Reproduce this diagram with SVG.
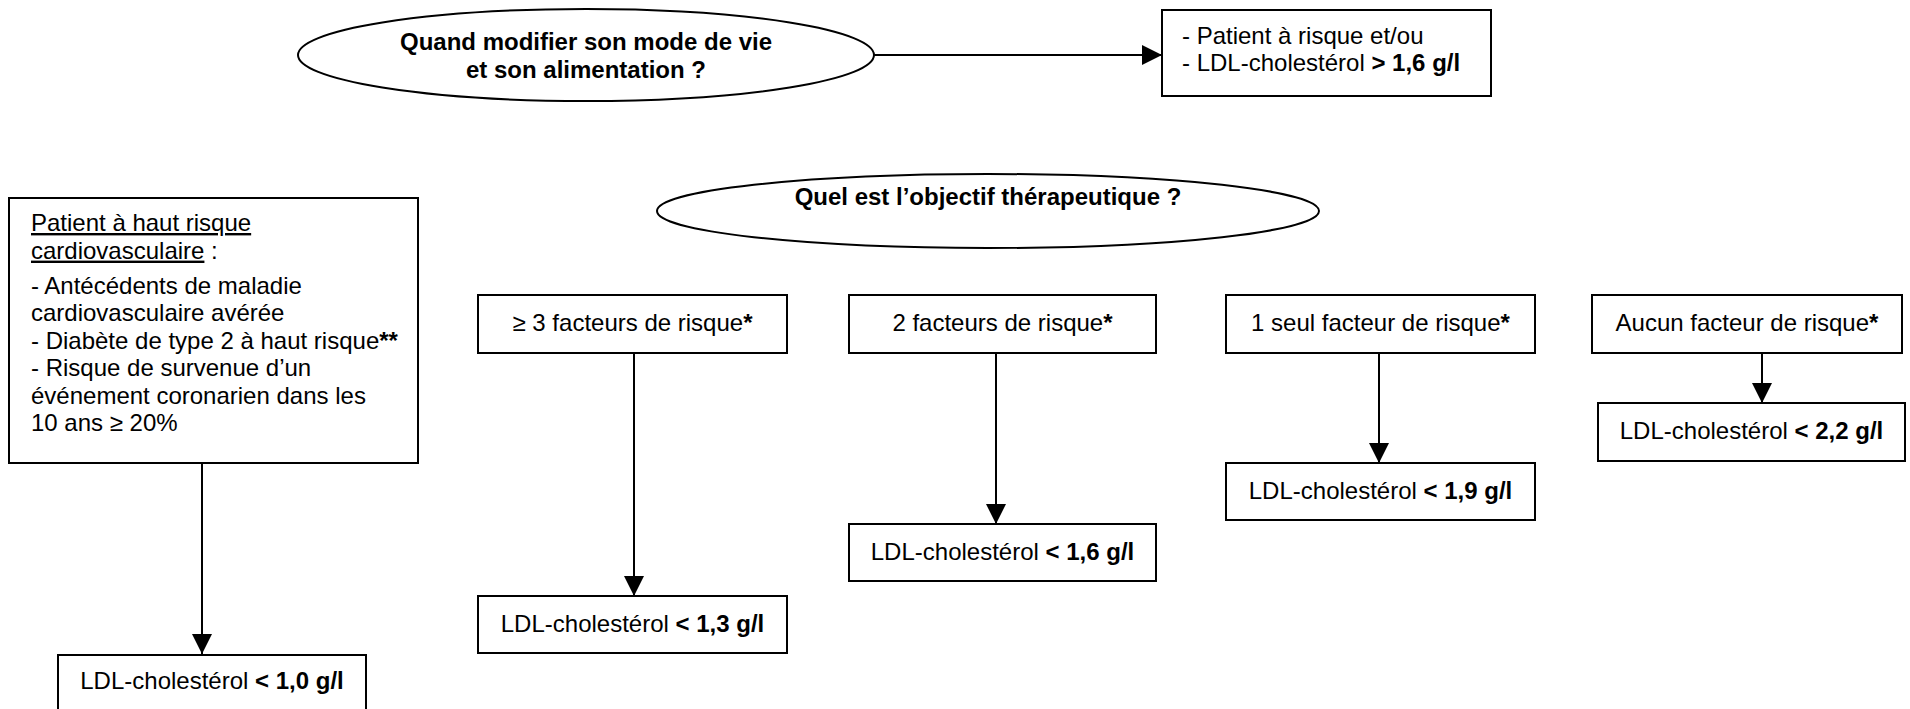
<svg xmlns="http://www.w3.org/2000/svg" width="1910" height="709" viewBox="0 0 1910 709">
<style>
  text { font-family: "Liberation Sans", Arial, sans-serif; font-size: 24px; fill: #000; }
  .b { font-weight: bold; }
  .c { text-anchor: middle; }
  .u { text-decoration: underline; }
  .box { fill: #fff; stroke: #000; stroke-width: 2; }
  .conn line { stroke: #000; stroke-width: 2; }
</style>
<defs>
  <marker id="ah" viewBox="0 0 20 20" refX="20" refY="10" markerWidth="20" markerHeight="20" markerUnits="userSpaceOnUse" orient="auto">
    <path d="M0,0 L20,10 L0,20 Z" fill="#000"/>
  </marker>
</defs>
<rect width="1910" height="709" fill="#fff"/>

<g class="conn">
  <line x1="874" y1="55" x2="1162" y2="55" marker-end="url(#ah)"/>
  <line x1="202" y1="463" x2="202" y2="654" marker-end="url(#ah)"/>
  <line x1="634" y1="353" x2="634" y2="596" marker-end="url(#ah)"/>
  <line x1="996" y1="353" x2="996" y2="524" marker-end="url(#ah)"/>
  <line x1="1379" y1="353" x2="1379" y2="463" marker-end="url(#ah)"/>
  <line x1="1762" y1="353" x2="1762" y2="403" marker-end="url(#ah)"/>
</g>

<g id="q-mode-vie">
  <ellipse class="box" cx="586" cy="55" rx="288" ry="46"/>
  <text class="b c" x="586" y="50">Quand modifier son mode de vie</text>
  <text class="b c" x="586" y="78">et son alimentation ?</text>
</g>

<g id="patient-risque">
  <rect class="box" x="1162" y="10" width="329" height="86"/>
  <text x="1182" y="43.5">- Patient à risque et/ou</text>
  <text x="1182" y="71">- LDL-cholestérol <tspan class="b">&gt; 1,6 g/l</tspan></text>
</g>

<g id="q-objectif">
  <ellipse class="box" cx="988" cy="211" rx="331" ry="37"/>
  <text class="b c" x="988" y="205">Quel est l’objectif thérapeutique ?</text>
</g>

<g id="haut-risque">
  <rect class="box" x="9" y="198" width="409" height="265"/>
  <text x="31" y="231"><tspan class="u">Patient à haut risque</tspan></text>
  <text x="31" y="258.6"><tspan class="u">cardiovasculaire</tspan> :</text>
  <text x="31" y="293.5">- Antécédents de maladie</text>
  <text x="31" y="321">cardiovasculaire avérée</text>
  <text x="31" y="348.6">- Diabète de type 2 à haut risque<tspan class="b">**</tspan></text>
  <text x="31" y="376.2">- Risque de survenue d’un</text>
  <text x="31" y="403.8">événement coronarien dans les</text>
  <text x="31" y="431.4">10 ans ≥ 20%</text>
</g>

<g id="ldl-10">
  <rect class="box" x="58" y="655" width="308" height="60"/>
  <text class="c" x="212" y="689">LDL-cholestérol <tspan class="b">&lt; 1,0 g/l</tspan></text>
</g>

<g id="fr3">
  <rect class="box" x="478" y="295" width="309" height="58"/>
  <text class="c" x="632.5" y="331">≥ 3 facteurs de risque<tspan class="b">*</tspan></text>
</g>
<g id="ldl-13">
  <rect class="box" x="478" y="596" width="309" height="57"/>
  <text class="c" x="632.5" y="632">LDL-cholestérol <tspan class="b">&lt; 1,3 g/l</tspan></text>
</g>

<g id="fr2">
  <rect class="box" x="849" y="295" width="307" height="58"/>
  <text class="c" x="1002.5" y="331">2 facteurs de risque<tspan class="b">*</tspan></text>
</g>
<g id="ldl-16">
  <rect class="box" x="849" y="524" width="307" height="57"/>
  <text class="c" x="1002.5" y="560">LDL-cholestérol <tspan class="b">&lt; 1,6 g/l</tspan></text>
</g>

<g id="fr1">
  <rect class="box" x="1226" y="295" width="309" height="58"/>
  <text class="c" x="1380.5" y="331">1 seul facteur de risque<tspan class="b">*</tspan></text>
</g>
<g id="ldl-19">
  <rect class="box" x="1226" y="463" width="309" height="57"/>
  <text class="c" x="1380.5" y="499">LDL-cholestérol <tspan class="b">&lt; 1,9 g/l</tspan></text>
</g>

<g id="fr0">
  <rect class="box" x="1592" y="295" width="310" height="58"/>
  <text class="c" x="1747" y="331">Aucun facteur de risque<tspan class="b">*</tspan></text>
</g>
<g id="ldl-22">
  <rect class="box" x="1598" y="403" width="307" height="58"/>
  <text class="c" x="1751.5" y="439">LDL-cholestérol <tspan class="b">&lt; 2,2 g/l</tspan></text>
</g>
</svg>
